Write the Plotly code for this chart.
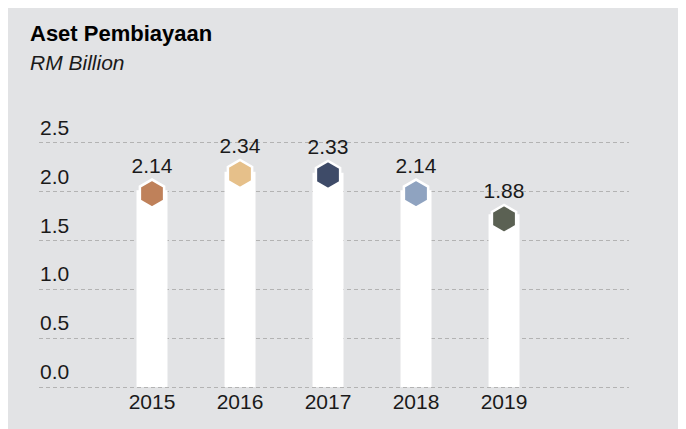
import plotly.graph_objects as go

years = ["2015", "2016", "2017", "2018", "2019"]
values = [2.14, 2.34, 2.33, 2.14, 1.88]
value_labels = ["2.14", "2.34", "2.33", "2.14", "1.88"]
hex_colors = ["#bf815a", "#e6c08a", "#3e4b68", "#8fa3c0", "#5b6153"]
y_ticks = [0.0, 0.5, 1.0, 1.5, 2.0, 2.5]
y_tick_labels = ["0.0", "0.5", "1.0", "1.5", "2.0", "2.5"]

title = "Aset Pembiayaan"
subtitle = "RM Billion"

FONT = "Liberation Sans, Arial, Helvetica, sans-serif"
TXT = "#1a1a1a"
BG = "#e2e3e5"

Y_RANGE = [-0.05, 2.55]
PX_PER_UNIT = 254 / (Y_RANGE[1] - Y_RANGE[0])
MARKER_SHIFT = 15.5 / PX_PER_UNIT   # hexagon sits just below the value
BAR_SCALE = 1.062                   # bar tops tuck under the hexagon

fig = go.Figure()

# white columns (on a proportionally scaled axis so the top hides under the hexagon)
fig.add_trace(go.Bar(
    x=years, y=values, yaxis="y2",
    marker=dict(color="white", line=dict(width=0)),
    width=0.352, cliponaxis=False, hoverinfo="skip",
))

# hexagon caps (on an axis shifted down by a fixed pixel amount)
fig.add_trace(go.Scatter(
    x=years, y=values, yaxis="y3", mode="markers",
    marker=dict(symbol="hexagon", size=28, color=hex_colors,
                line=dict(color="white", width=2.5)),
    cliponaxis=False, hoverinfo="skip",
))

# value labels
fig.add_trace(go.Scatter(
    x=years, y=values, mode="text", text=value_labels,
    textposition="top center",
    textfont=dict(family=FONT, size=21, color=TXT),
    cliponaxis=False, hoverinfo="skip",
))

annotations = []
for v, lab in zip(y_ticks, y_tick_labels):
    annotations.append(dict(
        x=0, xref="paper", y=v, yref="y", text=lab, showarrow=False,
        xanchor="left", yanchor="bottom", yshift=2, xshift=-1,
        font=dict(family=FONT, size=21, color=TXT),
    ))
annotations.append(dict(
    x=-0.019, xref="paper", y=1.412, yref="paper", text="<b>" + title + "</b>",
    showarrow=False, xanchor="left", yanchor="middle",
    font=dict(family=FONT, size=22, color="#000000"),
))
annotations.append(dict(
    x=-0.019, xref="paper", y=1.297, yref="paper", text="<i>" + subtitle + "</i>",
    showarrow=False, xanchor="left", yanchor="middle",
    font=dict(family=FONT, size=21, color=TXT),
))

fig.update_layout(
    width=686, height=429,
    margin=dict(l=31, r=65, t=130, b=45),
    paper_bgcolor=BG, plot_bgcolor="rgba(0,0,0,0)",
    showlegend=False,
    annotations=annotations,
    xaxis=dict(type="category", range=[-1.284, 5.42], showgrid=False,
               zeroline=False, showline=False, ticks="", ticklabelstandoff=-5,
               tickfont=dict(family=FONT, size=21, color=TXT)),
    yaxis=dict(range=Y_RANGE, tickvals=y_ticks, showticklabels=False,
               showgrid=True, gridcolor="#b3b3b3", gridwidth=1, griddash="4px,3px",
               zeroline=False, showline=False, ticks=""),
    yaxis2=dict(range=[Y_RANGE[0] * BAR_SCALE, Y_RANGE[1] * BAR_SCALE],
                overlaying="y", visible=False),
    yaxis3=dict(range=[Y_RANGE[0] + MARKER_SHIFT, Y_RANGE[1] + MARKER_SHIFT],
                overlaying="y", visible=False),
)

fig.write_html("out.html")
